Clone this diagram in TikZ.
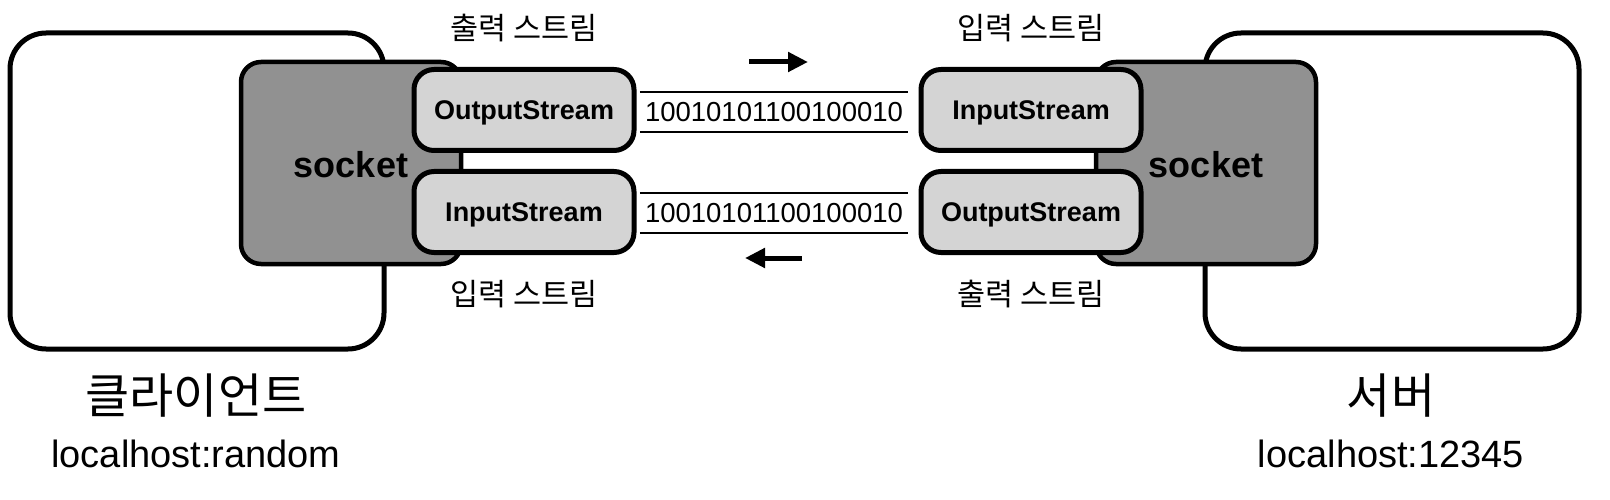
\documentclass[tikz,border=0pt]{standalone}
\usepackage{fontspec}
\setmainfont{Liberation Sans}
\newfontfamily\kr{Noto Sans CJK KR}
\usetikzlibrary{arrows.meta}
\definecolor{sockgray}{HTML}{919191}
\definecolor{streamgray}{HTML}{D4D4D4}
\newcommand{\fs}[1]{\fontsize{#1}{#1}\selectfont}
\begin{document}
\begin{tikzpicture}[x=1pt,y=-1pt]
	\tikzstyle{host}=[draw=black,line width=5pt,rounded corners=36pt,fill=white,minimum width=374pt,minimum height=316pt,inner sep=0pt]
	\tikzstyle{sock}=[draw=black,line width=4.5pt,rounded corners=20pt,fill=sockgray,minimum width=220pt,minimum height=202pt,inner sep=0pt]
	\tikzstyle{stream}=[draw=black,line width=5pt,rounded corners=20pt,fill=streamgray,minimum width=220pt,minimum height=81pt,inner sep=0pt,text depth=0pt,font=\fs{27}\bfseries]
	\tikzstyle{socktxt}=[inner sep=0pt,font=\fs{36}\bfseries]
	\tikzstyle{bits}=[minimum width=268pt,minimum height=40pt,inner sep=0pt,font=\fs{27.5}]
	\tikzstyle{label}=[inner sep=0pt,font=\kr\fs{30.5}]
	\tikzstyle{hostname}=[inner sep=0pt,font=\kr\fs{48}]
	\tikzstyle{addr}=[inner sep=0pt,font=\fs{38}]
	\tikzstyle{flow}=[draw,line width=5pt,-{Triangle[length=20pt,width=19pt]}]
	\tikzstyle{rail}=[draw,line width=2pt]
	\useasboundingbox (0,0) rectangle (1610,500);
	% hosts
	\node [host] (client) at (197,191) {};
	\node [host] (server) at (1392,191) {};
	% sockets
	\node [sock] (csock) at (351,163) {};
	\node [sock] (ssock) at (1206,163) {};
	% streams
	\node [stream] (cout) at (524,110) {OutputStream};
	\node [stream] (cin) at (524,212) {InputStream};
	\node [stream] (sin) at (1031,110) {InputStream};
	\node [stream] (sout) at (1031,212) {OutputStream};
	\node [socktxt] (csocktxt) at (351,165) {socket};
	\node [socktxt] (ssocktxt) at (1206,165) {socket};
	% data
	\node [bits] (bits1) at (774,112) {10010101100100010};
	\node [bits] (bits2) at (774,213) {10010101100100010};
	\path[rail] (bits1.north west) -- (bits1.north east);
	\path[rail] (bits1.south west) -- (bits1.south east);
	\path[rail] (bits2.north west) -- (bits2.north east);
	\path[rail] (bits2.south west) -- (bits2.south east);
	\coordinate (f1) at (749,62);
	\coordinate (t1) at (808,62);
	\coordinate (f2) at (802,258);
	\coordinate (t2) at (745,258);
	\path[flow] (f1) -- (t1);
	\path[flow] (f2) -- (t2);
	% labels
	\node [label] (l1) at (524,28) {출력 스트림};
	\node [label] (l2) at (524,294) {입력 스트림};
	\node [label] (l3) at (1031,28) {입력 스트림};
	\node [label] (l4) at (1031,294) {출력 스트림};
	\node [hostname] (cname) at (196,396) {클라이언트};
	\node [addr] (caddr) at (196,454) {localhost:random};
	\node [hostname] (sname) at (1391,396) {서버};
	\node [addr] (saddr) at (1391,454) {localhost:12345};
\end{tikzpicture}
\end{document}
